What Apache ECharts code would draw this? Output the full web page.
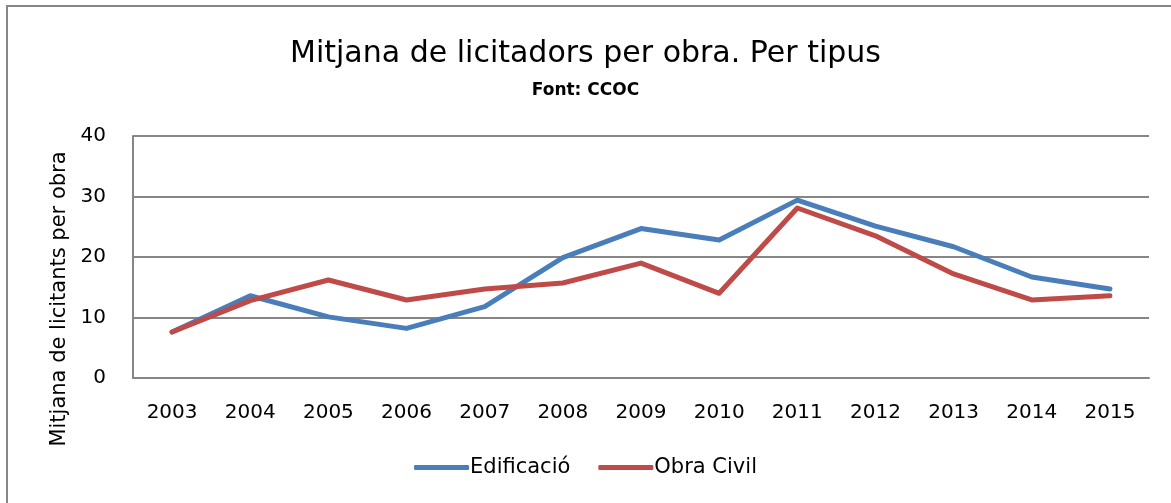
<!DOCTYPE html>
<html>
<head>
<meta charset="utf-8">
<script src="https://cdn.jsdelivr.net/npm/echarts@6/dist/echarts.min.js"></script>
<style>
  html, body { margin: 0; padding: 0; background: #fff; }
  #licitadors_chart { width: 1171px; height: 503px; }
</style>
</head>
<body>
<div id="licitadors_chart"></div>
<script>
  // anys i mitjanes llegides del grafic
  var years = ['2003','2004','2005','2006','2007','2008','2009','2010','2011','2012','2013','2014','2015'];
  var edificacio = [7.6, 13.6, 10.1, 8.2, 11.8, 19.9, 24.7, 22.8, 29.4, 25.1, 21.7, 16.7, 14.7];
  var obraCivil = [7.6, 12.8, 16.2, 12.9, 14.7, 15.7, 19.0, 14.0, 28.1, 23.5, 17.2, 12.9, 13.6];

  var font = '"DejaVu Sans", sans-serif';
  var chart = echarts.init(document.getElementById('licitadors_chart'));
  var option = {
    color: ['#4a7ebb', '#be4b48'],
    animation: false,
    textStyle: { fontFamily: font },
    title: {
      text: 'Mitjana de licitadors per obra. Per tipus',
      subtext: 'Font: CCOC',
      left: 'center',
      top: 34,
      itemGap: 13,
      textStyle: { fontFamily: font, fontSize: 30, fontWeight: 'normal', color: '#000' },
      subtextStyle: { fontFamily: font, fontSize: 17, fontWeight: 'bold', color: '#000' }
    },
    legend: {
      data: ['Edificació', 'Obra Civil'],
      bottom: 20,
      left: 'center',
      itemWidth: 55,
      itemHeight: 5,
      itemGap: 28,
      icon: 'roundRect',
      textStyle: { fontFamily: font, fontSize: 21, color: '#000', padding: [0, 0, 0, -4] }
    },
    grid: {
      left: 133,
      right: 22,
      top: 136,
      bottom: 125
    },
    graphic: [{
      type: 'rect',
      shape: { x: 7, y: 6, width: 1300, height: 700 },
      style: { fill: 'none', stroke: '#868686', lineWidth: 2 },
      silent: true
    }],
    xAxis: {
      type: 'category',
      data: years,
      boundaryGap: true,
      axisTick: { show: false },
      axisLine: { lineStyle: { color: '#868686', width: 2 } },
      axisLabel: { color: '#000', fontSize: 20, margin: 25, fontFamily: font }
    },
    yAxis: {
      type: 'value',
      min: 0,
      max: 40,
      interval: 10,
      name: 'Mitjana de licitants per obra',
      nameLocation: 'middle',
      nameGap: 62,
      nameTextStyle: { color: '#000', fontSize: 21, fontFamily: font, padding: [0, 84, 0, 0] },
      axisLine: { show: true, lineStyle: { color: '#868686', width: 2 } },
      axisTick: { show: false },
      splitLine: { lineStyle: { color: '#868686', width: 2 } },
      axisLabel: { color: '#000', fontSize: 20, margin: 27, fontFamily: font }
    },
    series: [
      {
        name: 'Edificació',
        type: 'line',
        data: edificacio,
        symbol: 'none',
        lineStyle: { width: 5, cap: 'round', join: 'round' }
      },
      {
        name: 'Obra Civil',
        type: 'line',
        data: obraCivil,
        symbol: 'none',
        lineStyle: { width: 5, cap: 'round', join: 'round' }
      }
    ]
  };
  chart.setOption(option);
</script>
</body>
</html>
